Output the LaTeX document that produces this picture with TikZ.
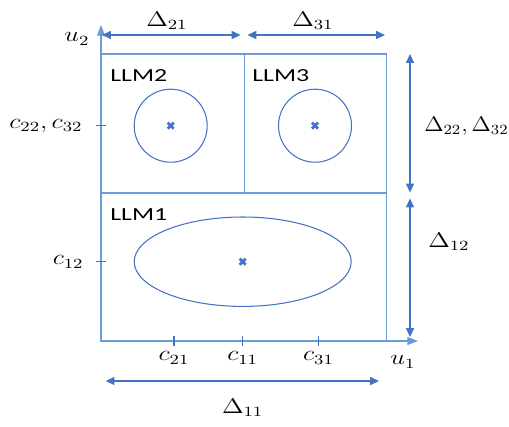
\documentclass[tikz,border=0pt]{standalone}
\usepackage{fontspec}
\setmainfont{Carlito}
\usepackage{xcolor}
\usepackage{graphicx}
\usepackage{tikz}
\usetikzlibrary{arrows.meta,calc}
\definecolor{axisblue}{HTML}{6A9BD8}
\definecolor{darkblue}{HTML}{4472C4}
\newcommand{\widetext}[1]{\scalebox{1.4}[1]{#1}}
\newcommand{\widemath}[2][1.25]{\scalebox{#1}[1]{#2}}

\begin{document}
\begin{tikzpicture}[x=0.02cm,y=-0.02cm,
  frame/.style={draw=axisblue,line width=0.6pt},
  axis/.style={axisblue,line width=0.6pt,-{Triangle[length=6pt,width=4.5pt]}},
  dim/.style={darkblue,line width=0.7pt,{Triangle[length=5pt,width=4.5pt]}-{Triangle[length=5pt,width=4.5pt]}},
  region/.style={draw=darkblue,line width=0.6pt},
  tick/.style={darkblue,line width=0.8pt},
  centremark/.style={darkblue,line width=1.6pt},
  lab/.style={font=\fontsize{10.5}{12}\selectfont,inner sep=0pt},
  mth/.style={font=\fontsize{12}{14}\selectfont,inner sep=0pt}]
\useasboundingbox (0,0) rectangle (509,426);

% axes and boxes
\coordinate (o) at (101,341);
\coordinate (xend) at (418,341);
\coordinate (yend) at (101,25);
\draw[frame] (101,54) rectangle (386.7,341);
\draw[frame] (101,193) -- (386.7,193);
\draw[frame] (244.3,54) -- (244.3,193);
\draw[axis] (o) -- (xend);
\draw[axis] (o) -- (yend);
\node[mth] (u1) at (403,362) {\widemath{$u_1$}};
\node[mth] (u2) at (77,39) {\widemath{$u_2$}};

% models
\node[lab,anchor=west] (llm2) at (110,76) {\widetext{LLM2}};
\node[lab,anchor=west] (llm3) at (252,76) {\widetext{LLM3}};
\node[lab,anchor=west] (llm1) at (110,215) {\widetext{LLM1}};
\draw[region] (170.7,125.7) circle (36.5);
\draw[region] (315,125.7) circle (36.5);
\draw[region] (242.7,261.7) ellipse [x radius=108.5,y radius=44.7];
\foreach \cx/\cy in {170.7/125.7,315/125.7,242.7/261.7}
  \draw[centremark] (\cx-3,\cy-3) -- (\cx+3,\cy+3) (\cx-3,\cy+3) -- (\cx+3,\cy-3);

% ticks
\foreach \tx in {174,242.7,318.5}
  \draw[tick] (\tx,336) -- (\tx,346);
\foreach \ty in {125.7,261.7}
  \draw[tick] (96,\ty) -- (106,\ty);
\node[mth] (c21) at (174,358) {\widemath{$c_{21}$}};
\node[mth] (c11) at (242.7,358) {\widemath{$c_{11}$}};
\node[mth] (c31) at (318.5,358) {\widemath{$c_{31}$}};
\node[mth,anchor=east] (c12) at (84,262) {\widemath{$c_{12}$}};
\node[mth,anchor=east] (c22) at (83,126) {\widemath{$c_{22},c_{32}$}};

% widths
\coordinate (a21l) at (102,35);
\coordinate (a21r) at (240.5,35);
\coordinate (a31l) at (247.5,35);
\coordinate (a31r) at (385,35);
\coordinate (a11l) at (105.7,381);
\coordinate (a11r) at (379,381);
\draw[dim] (a21l) -- (a21r);
\draw[dim] (a31l) -- (a31r);
\draw[dim] (a11l) -- (a11r);
\node[mth] (d21) at (167,21) {\widemath{$\Delta_{21}$}};
\node[mth] (d31) at (313,21) {\widemath{$\Delta_{31}$}};
\node[mth] (d11) at (242.7,408) {\widemath{$\Delta_{11}$}};

% heights
\coordinate (a22t) at (410,54);
\coordinate (a22b) at (410,192.5);
\coordinate (a12t) at (410,198.5);
\coordinate (a12b) at (410,337);
\draw[dim] (a22t) -- (a22b);
\draw[dim] (a12t) -- (a12b);
\node[mth,anchor=west] (d22) at (424,126) {\widemath[1.12]{$\Delta_{22},\Delta_{32}$}};
\node[mth] (d12) at (449,242) {\widemath{$\Delta_{12}$}};
\end{tikzpicture}
\end{document}
